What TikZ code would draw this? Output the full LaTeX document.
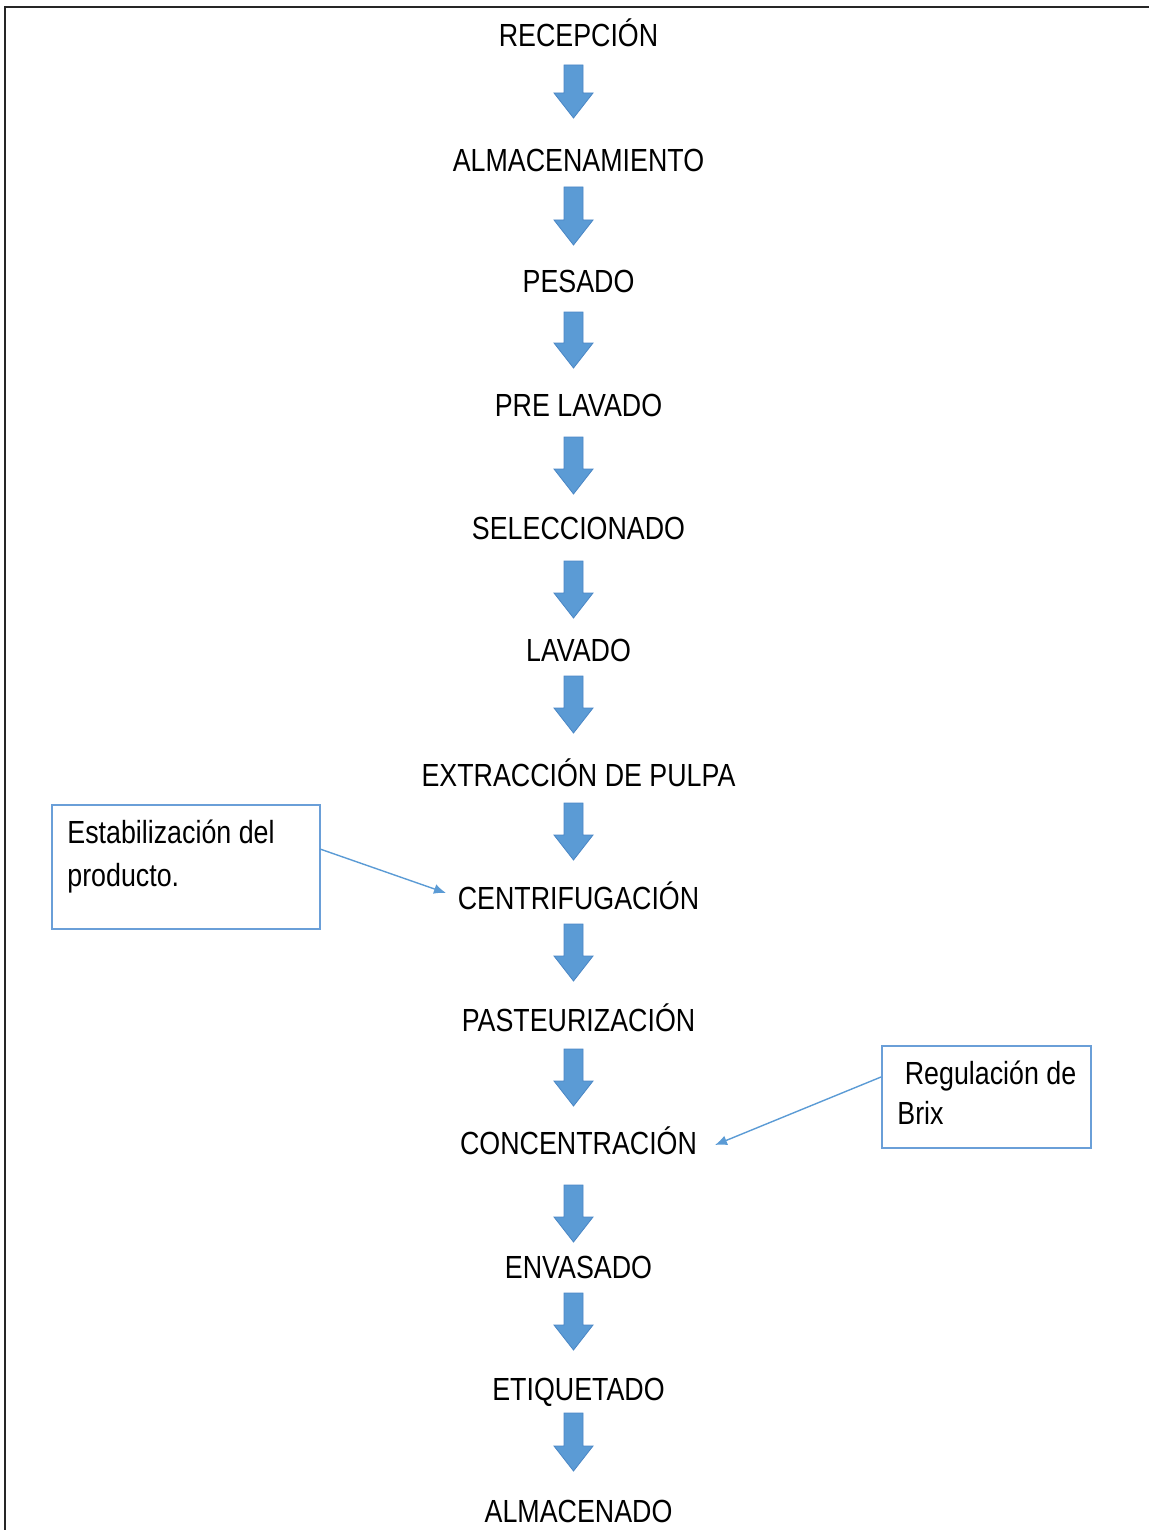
\documentclass[tikz,border=0pt]{standalone}
\usepackage{fontspec}
\setmainfont{Liberation Sans}[FakeStretch=0.838]
\usetikzlibrary{arrows.meta}
\definecolor{arrowblue}{HTML}{5B9BD5}
\definecolor{arrowedge}{HTML}{4A86C5}
\definecolor{boxblue}{HTML}{6A9FD8}
\begin{document}
\begin{tikzpicture}[x=0.5pt,y=-0.5pt,
  steplbl/.style={anchor=base, inner sep=0pt, font=\fontsize{16}{19}\selectfont},
  notelbl/.style={anchor=base west, inner sep=0pt, font=\fontsize{16}{19}\selectfont},
  sidebox/.style={draw=boxblue, line width=0.75pt, anchor=north west, inner sep=0pt},
  blockarrow/.style={fill=arrowblue, draw=arrowedge, line width=0.4pt, line join=miter},
  thinarrow/.style={draw=arrowblue, line width=0.7pt, -{Latex[length=6pt,width=5pt]}},
  frameline/.style={draw=black!85, line width=1.25pt}
]
\useasboundingbox (0,0) rectangle (1149,1530);
\draw[frameline] (1149,7) -- (5,7) -- (5,1530);

% steps
\node[steplbl] (s1)  at (578.5,46.5)   {RECEPCIÓN};
\node[steplbl] (s2)  at (578.5,171.5)  {ALMACENAMIENTO};
\node[steplbl] (s3)  at (578.5,292.5)  {PESADO};
\node[steplbl] (s4)  at (578.5,416.5)  {PRE LAVADO};
\node[steplbl] (s5)  at (578.5,539.5)  {SELECCIONADO};
\node[steplbl] (s6)  at (578.5,661.5)  {LAVADO};
\node[steplbl] (s7)  at (578.5,786.5)  {EXTRACCIÓN DE PULPA};
\node[steplbl] (s8)  at (578.5,909.5)  {CENTRIFUGACIÓN};
\node[steplbl] (s9)  at (578.5,1031.5) {PASTEURIZACIÓN};
\node[steplbl] (s10) at (578.5,1154.5) {CONCENTRACIÓN};
\node[steplbl] (s11) at (578.5,1278.5) {ENVASADO};
\node[steplbl] (s12) at (578.5,1400.5) {ETIQUETADO};
\node[steplbl] (s13) at (578.5,1522.5) {ALMACENADO};

% block arrows
\foreach \t/\b in {65/118, 187/245, 312/368, 437/494, 561/618, 676/733,
                   803/860, 924/981, 1049/1106, 1185/1242, 1293/1350, 1413/1471}{
  \draw[blockarrow] (564,\t) -- (583,\t) -- (583,\b-25) -- (593,\b-25)
    -- (573.5,\b) -- (554,\b-25) -- (564,\b-25) -- cycle;
}

% side notes
\node[sidebox, minimum width=134pt, minimum height=62pt] (lbox) at (51,804) {};
\node[notelbl] (lt1) at (67,843.5) {Estabilización del};
\node[notelbl] (lt2) at (67,886.5) {producto.};
\node[sidebox, minimum width=104.5pt, minimum height=51pt] (rbox) at (881,1045) {};
\node[notelbl] (rt1) at (897,1084.5) {\ Regulación de};
\node[notelbl] (rt2) at (897,1124.5) {Brix};

\coordinate (lstart) at (320,849);
\coordinate (ltip) at (446,893);
\coordinate (rstart) at (881,1077);
\coordinate (rtip) at (715,1145);
\draw[thinarrow] (lstart) -- (ltip);
\draw[thinarrow] (rstart) -- (rtip);
\end{tikzpicture}
\end{document}
